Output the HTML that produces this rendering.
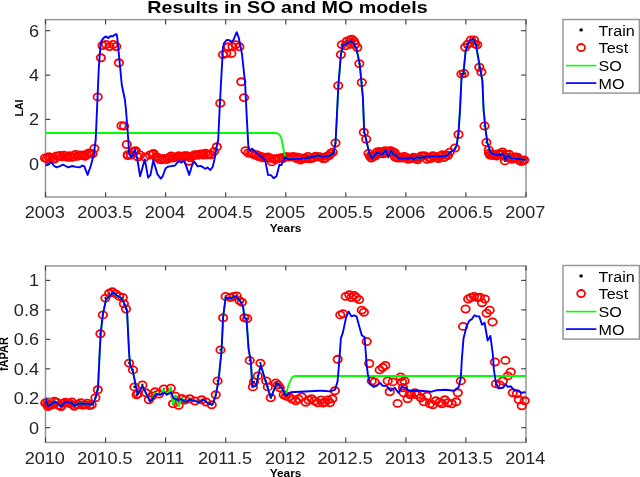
<!DOCTYPE html><html><head><meta charset="utf-8"><style>html,body{margin:0;padding:0;background:#fff;overflow:hidden}svg{display:block;filter:blur(0.35px)}</style></head><body><svg width="640" height="477" viewBox="0 0 640 477">
<rect width="640" height="477" fill="#fff"/>
<defs><clipPath id="c1"><rect x="45.5" y="19.6" width="480.5" height="177.3"/></clipPath>
<clipPath id="c2"><rect x="45.5" y="265.7" width="480.5" height="176.7"/></clipPath></defs>
<rect x="45.5" y="19.65" width="480.5" height="177.35" stroke="#939393" stroke-width="1.45" fill="none"/>
<g stroke="#3a3a3a" stroke-width="1.10" fill="none">
<line x1="45.5" y1="197.0" x2="45.5" y2="192.2"/>
<line x1="45.5" y1="19.6" x2="45.5" y2="24.4"/>
<line x1="105.6" y1="197.0" x2="105.6" y2="192.2"/>
<line x1="105.6" y1="19.6" x2="105.6" y2="24.4"/>
<line x1="165.6" y1="197.0" x2="165.6" y2="192.2"/>
<line x1="165.6" y1="19.6" x2="165.6" y2="24.4"/>
<line x1="225.7" y1="197.0" x2="225.7" y2="192.2"/>
<line x1="225.7" y1="19.6" x2="225.7" y2="24.4"/>
<line x1="285.8" y1="197.0" x2="285.8" y2="192.2"/>
<line x1="285.8" y1="19.6" x2="285.8" y2="24.4"/>
<line x1="345.8" y1="197.0" x2="345.8" y2="192.2"/>
<line x1="345.8" y1="19.6" x2="345.8" y2="24.4"/>
<line x1="405.9" y1="197.0" x2="405.9" y2="192.2"/>
<line x1="405.9" y1="19.6" x2="405.9" y2="24.4"/>
<line x1="465.9" y1="197.0" x2="465.9" y2="192.2"/>
<line x1="465.9" y1="19.6" x2="465.9" y2="24.4"/>
<line x1="526.0" y1="197.0" x2="526.0" y2="192.2"/>
<line x1="526.0" y1="19.6" x2="526.0" y2="24.4"/>
<line x1="45.5" y1="163.7" x2="50.3" y2="163.7"/>
<line x1="526.0" y1="163.7" x2="521.2" y2="163.7"/>
<line x1="45.5" y1="119.4" x2="50.3" y2="119.4"/>
<line x1="526.0" y1="119.4" x2="521.2" y2="119.4"/>
<line x1="45.5" y1="75.1" x2="50.3" y2="75.1"/>
<line x1="526.0" y1="75.1" x2="521.2" y2="75.1"/>
<line x1="45.5" y1="30.7" x2="50.3" y2="30.7"/>
<line x1="526.0" y1="30.7" x2="521.2" y2="30.7"/>
</g>
<g>
<g fill="#000">
<circle cx="335.5" cy="143.0" r="1.1"/>
<circle cx="338.2" cy="85.6" r="1.1"/>
<circle cx="340.9" cy="54.6" r="1.1"/>
<circle cx="341.8" cy="44.6" r="1.1"/>
<circle cx="345.6" cy="45.8" r="1.1"/>
<circle cx="346.8" cy="41.2" r="1.1"/>
<circle cx="349.8" cy="40.0" r="1.1"/>
<circle cx="351.9" cy="39.1" r="1.1"/>
<circle cx="354.0" cy="41.2" r="1.1"/>
<circle cx="355.2" cy="44.2" r="1.1"/>
<circle cx="357.3" cy="47.5" r="1.1"/>
<circle cx="350.6" cy="44.2" r="1.1"/>
<circle cx="359.3" cy="63.6" r="1.1"/>
<circle cx="361.8" cy="82.5" r="1.1"/>
<circle cx="363.8" cy="132.3" r="1.1"/>
<circle cx="366.2" cy="139.2" r="1.1"/>
<circle cx="368.5" cy="153.4" r="1.1"/>
<circle cx="371.3" cy="158.1" r="1.1"/>
<circle cx="377.0" cy="151.9" r="1.1"/>
<circle cx="380.0" cy="153.0" r="1.1"/>
<circle cx="385.1" cy="150.6" r="1.1"/>
<circle cx="390.2" cy="150.6" r="1.1"/>
<circle cx="395.0" cy="157.0" r="1.1"/>
<circle cx="458.5" cy="134.5" r="1.1"/>
<circle cx="455.0" cy="148.0" r="1.1"/>
<circle cx="461.4" cy="74.1" r="1.1"/>
<circle cx="464.0" cy="73.5" r="1.1"/>
<circle cx="465.2" cy="47.3" r="1.1"/>
<circle cx="467.7" cy="44.1" r="1.1"/>
<circle cx="470.9" cy="39.9" r="1.1"/>
<circle cx="474.0" cy="39.9" r="1.1"/>
<circle cx="475.1" cy="44.1" r="1.1"/>
<circle cx="477.2" cy="44.7" r="1.1"/>
<circle cx="479.3" cy="67.2" r="1.1"/>
<circle cx="481.4" cy="72.0" r="1.1"/>
<circle cx="484.5" cy="126.0" r="1.1"/>
<circle cx="486.4" cy="142.5" r="1.1"/>
<circle cx="488.7" cy="150.0" r="1.1"/>
<circle cx="490.0" cy="155.0" r="1.1"/>
<circle cx="495.0" cy="155.0" r="1.1"/>
<circle cx="502.5" cy="151.9" r="1.1"/>
<circle cx="504.9" cy="160.9" r="1.1"/>
<circle cx="509.0" cy="154.3" r="1.1"/>
<circle cx="515.0" cy="157.0" r="1.1"/>
<circle cx="517.5" cy="157.2" r="1.1"/>
<circle cx="524.2" cy="160.0" r="1.1"/>
<circle cx="285.2" cy="156.6" r="1.1"/>
<circle cx="287.1" cy="156.6" r="1.1"/>
<circle cx="289.0" cy="157.1" r="1.1"/>
<circle cx="290.9" cy="156.9" r="1.1"/>
<circle cx="292.8" cy="156.7" r="1.1"/>
<circle cx="294.7" cy="156.8" r="1.1"/>
<circle cx="296.6" cy="158.5" r="1.1"/>
<circle cx="298.5" cy="157.1" r="1.1"/>
<circle cx="300.4" cy="160.1" r="1.1"/>
<circle cx="302.3" cy="158.8" r="1.1"/>
<circle cx="304.2" cy="158.0" r="1.1"/>
<circle cx="306.1" cy="158.5" r="1.1"/>
<circle cx="308.0" cy="156.5" r="1.1"/>
<circle cx="309.9" cy="158.9" r="1.1"/>
<circle cx="311.8" cy="158.4" r="1.1"/>
<circle cx="313.7" cy="157.7" r="1.1"/>
<circle cx="315.6" cy="156.1" r="1.1"/>
<circle cx="317.5" cy="156.9" r="1.1"/>
<circle cx="319.4" cy="156.8" r="1.1"/>
<circle cx="321.3" cy="157.1" r="1.1"/>
<circle cx="323.2" cy="158.8" r="1.1"/>
<circle cx="325.1" cy="158.3" r="1.1"/>
<circle cx="327.0" cy="156.1" r="1.1"/>
<circle cx="328.9" cy="155.8" r="1.1"/>
<circle cx="330.8" cy="153.3" r="1.1"/>
<circle cx="332.7" cy="152.2" r="1.1"/>
<circle cx="370.0" cy="156.2" r="1.1"/>
<circle cx="371.9" cy="156.1" r="1.1"/>
<circle cx="373.8" cy="156.6" r="1.1"/>
<circle cx="375.7" cy="155.8" r="1.1"/>
<circle cx="377.6" cy="153.9" r="1.1"/>
<circle cx="379.5" cy="151.4" r="1.1"/>
<circle cx="381.4" cy="152.4" r="1.1"/>
<circle cx="383.3" cy="153.7" r="1.1"/>
<circle cx="385.2" cy="152.8" r="1.1"/>
<circle cx="387.1" cy="151.3" r="1.1"/>
<circle cx="389.0" cy="151.5" r="1.1"/>
<circle cx="390.9" cy="150.9" r="1.1"/>
<circle cx="392.8" cy="151.7" r="1.1"/>
<circle cx="394.7" cy="152.8" r="1.1"/>
<circle cx="396.6" cy="157.7" r="1.1"/>
<circle cx="398.5" cy="158.1" r="1.1"/>
<circle cx="400.4" cy="156.9" r="1.1"/>
<circle cx="402.3" cy="158.0" r="1.1"/>
<circle cx="404.2" cy="156.5" r="1.1"/>
<circle cx="406.1" cy="157.1" r="1.1"/>
<circle cx="408.0" cy="159.2" r="1.1"/>
<circle cx="409.9" cy="158.9" r="1.1"/>
<circle cx="411.8" cy="158.1" r="1.1"/>
<circle cx="413.7" cy="157.2" r="1.1"/>
<circle cx="415.6" cy="158.6" r="1.1"/>
<circle cx="417.5" cy="159.8" r="1.1"/>
<circle cx="419.4" cy="157.6" r="1.1"/>
<circle cx="421.3" cy="156.0" r="1.1"/>
<circle cx="423.2" cy="155.9" r="1.1"/>
<circle cx="425.1" cy="155.9" r="1.1"/>
<circle cx="427.0" cy="159.3" r="1.1"/>
<circle cx="428.9" cy="157.5" r="1.1"/>
<circle cx="430.8" cy="158.6" r="1.1"/>
<circle cx="432.7" cy="155.8" r="1.1"/>
<circle cx="434.6" cy="156.1" r="1.1"/>
<circle cx="436.5" cy="157.7" r="1.1"/>
<circle cx="438.4" cy="158.5" r="1.1"/>
<circle cx="440.3" cy="156.1" r="1.1"/>
<circle cx="442.2" cy="154.7" r="1.1"/>
<circle cx="444.1" cy="157.6" r="1.1"/>
<circle cx="446.0" cy="155.0" r="1.1"/>
<circle cx="447.9" cy="155.6" r="1.1"/>
<circle cx="449.8" cy="152.1" r="1.1"/>
<circle cx="489.0" cy="153.1" r="1.1"/>
<circle cx="490.9" cy="154.9" r="1.1"/>
<circle cx="492.8" cy="155.6" r="1.1"/>
<circle cx="494.7" cy="154.4" r="1.1"/>
<circle cx="496.6" cy="156.0" r="1.1"/>
<circle cx="498.5" cy="153.8" r="1.1"/>
<circle cx="500.4" cy="154.3" r="1.1"/>
<circle cx="502.3" cy="154.3" r="1.1"/>
<circle cx="504.2" cy="156.2" r="1.1"/>
<circle cx="506.1" cy="154.1" r="1.1"/>
<circle cx="508.0" cy="157.8" r="1.1"/>
<circle cx="509.9" cy="158.0" r="1.1"/>
<circle cx="511.8" cy="159.3" r="1.1"/>
<circle cx="513.7" cy="157.4" r="1.1"/>
<circle cx="515.6" cy="157.3" r="1.1"/>
<circle cx="517.5" cy="157.9" r="1.1"/>
<circle cx="519.4" cy="160.6" r="1.1"/>
<circle cx="521.3" cy="161.5" r="1.1"/>
<circle cx="523.2" cy="160.8" r="1.1"/>
</g>
<g fill="none" stroke="#ff0000" stroke-width="1.8">
<ellipse cx="97.7" cy="96.9" rx="4.2" ry="3.55"/>
<ellipse cx="100.9" cy="57.8" rx="4.2" ry="3.55"/>
<ellipse cx="102.5" cy="45.5" rx="4.2" ry="3.55"/>
<ellipse cx="106.0" cy="44.5" rx="4.2" ry="3.55"/>
<ellipse cx="109.5" cy="46.5" rx="4.2" ry="3.55"/>
<ellipse cx="113.0" cy="44.5" rx="4.2" ry="3.55"/>
<ellipse cx="116.2" cy="46.5" rx="4.2" ry="3.55"/>
<ellipse cx="118.9" cy="62.8" rx="4.2" ry="3.55"/>
<ellipse cx="121.5" cy="125.7" rx="4.2" ry="3.55"/>
<ellipse cx="124.0" cy="126.0" rx="4.2" ry="3.55"/>
<ellipse cx="126.8" cy="144.5" rx="4.2" ry="3.55"/>
<ellipse cx="127.7" cy="154.7" rx="4.2" ry="3.55"/>
<ellipse cx="131.0" cy="155.0" rx="4.2" ry="3.55"/>
<ellipse cx="134.3" cy="151.5" rx="4.2" ry="3.55"/>
<ellipse cx="135.7" cy="150.6" rx="4.2" ry="3.55"/>
<ellipse cx="138.0" cy="157.0" rx="4.2" ry="3.55"/>
<ellipse cx="140.0" cy="155.0" rx="4.2" ry="3.55"/>
<ellipse cx="145.0" cy="157.0" rx="4.2" ry="3.55"/>
<ellipse cx="150.0" cy="155.0" rx="4.2" ry="3.55"/>
<ellipse cx="153.6" cy="153.4" rx="4.2" ry="3.55"/>
<ellipse cx="134.0" cy="151.3" rx="4.2" ry="3.55"/>
<ellipse cx="127.8" cy="155.6" rx="4.2" ry="3.55"/>
<ellipse cx="152.8" cy="154.2" rx="4.2" ry="3.55"/>
<ellipse cx="189.0" cy="161.2" rx="4.2" ry="3.55"/>
<ellipse cx="216.8" cy="146.8" rx="4.2" ry="3.55"/>
<ellipse cx="214.0" cy="151.5" rx="4.2" ry="3.55"/>
<ellipse cx="220.3" cy="103.2" rx="4.2" ry="3.55"/>
<ellipse cx="223.0" cy="54.6" rx="4.2" ry="3.55"/>
<ellipse cx="226.2" cy="53.5" rx="4.2" ry="3.55"/>
<ellipse cx="228.3" cy="46.8" rx="4.2" ry="3.55"/>
<ellipse cx="231.4" cy="53.5" rx="4.2" ry="3.55"/>
<ellipse cx="232.5" cy="46.8" rx="4.2" ry="3.55"/>
<ellipse cx="235.6" cy="44.7" rx="4.2" ry="3.55"/>
<ellipse cx="239.4" cy="46.8" rx="4.2" ry="3.55"/>
<ellipse cx="241.3" cy="81.8" rx="4.2" ry="3.55"/>
<ellipse cx="244.0" cy="97.6" rx="4.2" ry="3.55"/>
<ellipse cx="245.5" cy="150.6" rx="4.2" ry="3.55"/>
<ellipse cx="248.3" cy="153.0" rx="4.2" ry="3.55"/>
<ellipse cx="335.5" cy="143.0" rx="4.2" ry="3.55"/>
<ellipse cx="338.2" cy="85.6" rx="4.2" ry="3.55"/>
<ellipse cx="340.9" cy="54.6" rx="4.2" ry="3.55"/>
<ellipse cx="341.8" cy="44.6" rx="4.2" ry="3.55"/>
<ellipse cx="345.6" cy="45.8" rx="4.2" ry="3.55"/>
<ellipse cx="346.8" cy="41.2" rx="4.2" ry="3.55"/>
<ellipse cx="349.8" cy="40.0" rx="4.2" ry="3.55"/>
<ellipse cx="351.9" cy="39.1" rx="4.2" ry="3.55"/>
<ellipse cx="354.0" cy="41.2" rx="4.2" ry="3.55"/>
<ellipse cx="355.2" cy="44.2" rx="4.2" ry="3.55"/>
<ellipse cx="357.3" cy="47.5" rx="4.2" ry="3.55"/>
<ellipse cx="350.6" cy="44.2" rx="4.2" ry="3.55"/>
<ellipse cx="359.3" cy="63.6" rx="4.2" ry="3.55"/>
<ellipse cx="361.8" cy="82.5" rx="4.2" ry="3.55"/>
<ellipse cx="363.8" cy="132.3" rx="4.2" ry="3.55"/>
<ellipse cx="366.2" cy="139.2" rx="4.2" ry="3.55"/>
<ellipse cx="368.5" cy="153.4" rx="4.2" ry="3.55"/>
<ellipse cx="371.3" cy="158.1" rx="4.2" ry="3.55"/>
<ellipse cx="377.0" cy="151.9" rx="4.2" ry="3.55"/>
<ellipse cx="380.0" cy="153.0" rx="4.2" ry="3.55"/>
<ellipse cx="385.1" cy="150.6" rx="4.2" ry="3.55"/>
<ellipse cx="390.2" cy="150.6" rx="4.2" ry="3.55"/>
<ellipse cx="395.0" cy="157.0" rx="4.2" ry="3.55"/>
<ellipse cx="458.5" cy="134.5" rx="4.2" ry="3.55"/>
<ellipse cx="455.0" cy="148.0" rx="4.2" ry="3.55"/>
<ellipse cx="461.4" cy="74.1" rx="4.2" ry="3.55"/>
<ellipse cx="464.0" cy="73.5" rx="4.2" ry="3.55"/>
<ellipse cx="465.2" cy="47.3" rx="4.2" ry="3.55"/>
<ellipse cx="467.7" cy="44.1" rx="4.2" ry="3.55"/>
<ellipse cx="470.9" cy="39.9" rx="4.2" ry="3.55"/>
<ellipse cx="474.0" cy="39.9" rx="4.2" ry="3.55"/>
<ellipse cx="475.1" cy="44.1" rx="4.2" ry="3.55"/>
<ellipse cx="477.2" cy="44.7" rx="4.2" ry="3.55"/>
<ellipse cx="479.3" cy="67.2" rx="4.2" ry="3.55"/>
<ellipse cx="481.4" cy="72.0" rx="4.2" ry="3.55"/>
<ellipse cx="484.5" cy="126.0" rx="4.2" ry="3.55"/>
<ellipse cx="486.4" cy="142.5" rx="4.2" ry="3.55"/>
<ellipse cx="488.7" cy="150.0" rx="4.2" ry="3.55"/>
<ellipse cx="490.0" cy="155.0" rx="4.2" ry="3.55"/>
<ellipse cx="495.0" cy="155.0" rx="4.2" ry="3.55"/>
<ellipse cx="502.5" cy="151.9" rx="4.2" ry="3.55"/>
<ellipse cx="504.9" cy="160.9" rx="4.2" ry="3.55"/>
<ellipse cx="509.0" cy="154.3" rx="4.2" ry="3.55"/>
<ellipse cx="515.0" cy="157.0" rx="4.2" ry="3.55"/>
<ellipse cx="517.5" cy="157.2" rx="4.2" ry="3.55"/>
<ellipse cx="524.2" cy="160.0" rx="4.2" ry="3.55"/>
<ellipse cx="45.0" cy="158.0" rx="4.2" ry="3.55"/>
<ellipse cx="46.9" cy="158.6" rx="4.2" ry="3.55"/>
<ellipse cx="48.8" cy="156.8" rx="4.2" ry="3.55"/>
<ellipse cx="50.7" cy="157.7" rx="4.2" ry="3.55"/>
<ellipse cx="52.6" cy="159.1" rx="4.2" ry="3.55"/>
<ellipse cx="54.5" cy="159.1" rx="4.2" ry="3.55"/>
<ellipse cx="56.4" cy="155.9" rx="4.2" ry="3.55"/>
<ellipse cx="58.3" cy="156.2" rx="4.2" ry="3.55"/>
<ellipse cx="60.2" cy="155.5" rx="4.2" ry="3.55"/>
<ellipse cx="62.1" cy="156.9" rx="4.2" ry="3.55"/>
<ellipse cx="64.0" cy="155.2" rx="4.2" ry="3.55"/>
<ellipse cx="65.9" cy="156.7" rx="4.2" ry="3.55"/>
<ellipse cx="67.8" cy="157.4" rx="4.2" ry="3.55"/>
<ellipse cx="69.7" cy="155.8" rx="4.2" ry="3.55"/>
<ellipse cx="71.6" cy="157.2" rx="4.2" ry="3.55"/>
<ellipse cx="73.5" cy="156.8" rx="4.2" ry="3.55"/>
<ellipse cx="75.4" cy="154.4" rx="4.2" ry="3.55"/>
<ellipse cx="77.3" cy="156.4" rx="4.2" ry="3.55"/>
<ellipse cx="79.2" cy="155.0" rx="4.2" ry="3.55"/>
<ellipse cx="81.1" cy="155.5" rx="4.2" ry="3.55"/>
<ellipse cx="83.0" cy="154.9" rx="4.2" ry="3.55"/>
<ellipse cx="84.9" cy="156.4" rx="4.2" ry="3.55"/>
<ellipse cx="86.8" cy="154.8" rx="4.2" ry="3.55"/>
<ellipse cx="88.7" cy="152.9" rx="4.2" ry="3.55"/>
<ellipse cx="90.6" cy="153.7" rx="4.2" ry="3.55"/>
<ellipse cx="92.5" cy="153.8" rx="4.2" ry="3.55"/>
<ellipse cx="94.4" cy="148.4" rx="4.2" ry="3.55"/>
<ellipse cx="156.0" cy="156.7" rx="4.2" ry="3.55"/>
<ellipse cx="157.9" cy="157.4" rx="4.2" ry="3.55"/>
<ellipse cx="159.8" cy="159.5" rx="4.2" ry="3.55"/>
<ellipse cx="161.7" cy="159.7" rx="4.2" ry="3.55"/>
<ellipse cx="163.6" cy="158.5" rx="4.2" ry="3.55"/>
<ellipse cx="165.5" cy="159.4" rx="4.2" ry="3.55"/>
<ellipse cx="167.4" cy="159.2" rx="4.2" ry="3.55"/>
<ellipse cx="169.3" cy="157.3" rx="4.2" ry="3.55"/>
<ellipse cx="171.2" cy="156.0" rx="4.2" ry="3.55"/>
<ellipse cx="173.1" cy="158.1" rx="4.2" ry="3.55"/>
<ellipse cx="175.0" cy="157.5" rx="4.2" ry="3.55"/>
<ellipse cx="176.9" cy="156.6" rx="4.2" ry="3.55"/>
<ellipse cx="178.8" cy="155.8" rx="4.2" ry="3.55"/>
<ellipse cx="180.7" cy="156.4" rx="4.2" ry="3.55"/>
<ellipse cx="182.6" cy="156.5" rx="4.2" ry="3.55"/>
<ellipse cx="184.5" cy="155.7" rx="4.2" ry="3.55"/>
<ellipse cx="186.4" cy="155.6" rx="4.2" ry="3.55"/>
<ellipse cx="188.3" cy="156.2" rx="4.2" ry="3.55"/>
<ellipse cx="190.2" cy="157.7" rx="4.2" ry="3.55"/>
<ellipse cx="192.1" cy="156.4" rx="4.2" ry="3.55"/>
<ellipse cx="194.0" cy="155.0" rx="4.2" ry="3.55"/>
<ellipse cx="195.9" cy="154.8" rx="4.2" ry="3.55"/>
<ellipse cx="197.8" cy="155.3" rx="4.2" ry="3.55"/>
<ellipse cx="199.7" cy="154.2" rx="4.2" ry="3.55"/>
<ellipse cx="201.6" cy="154.0" rx="4.2" ry="3.55"/>
<ellipse cx="203.5" cy="155.1" rx="4.2" ry="3.55"/>
<ellipse cx="205.4" cy="153.3" rx="4.2" ry="3.55"/>
<ellipse cx="207.3" cy="154.7" rx="4.2" ry="3.55"/>
<ellipse cx="209.2" cy="154.1" rx="4.2" ry="3.55"/>
<ellipse cx="211.1" cy="154.7" rx="4.2" ry="3.55"/>
<ellipse cx="251.0" cy="153.3" rx="4.2" ry="3.55"/>
<ellipse cx="252.9" cy="154.0" rx="4.2" ry="3.55"/>
<ellipse cx="254.8" cy="155.0" rx="4.2" ry="3.55"/>
<ellipse cx="256.7" cy="154.6" rx="4.2" ry="3.55"/>
<ellipse cx="258.6" cy="156.6" rx="4.2" ry="3.55"/>
<ellipse cx="260.5" cy="156.1" rx="4.2" ry="3.55"/>
<ellipse cx="262.4" cy="157.7" rx="4.2" ry="3.55"/>
<ellipse cx="264.3" cy="157.1" rx="4.2" ry="3.55"/>
<ellipse cx="266.2" cy="157.9" rx="4.2" ry="3.55"/>
<ellipse cx="268.1" cy="156.9" rx="4.2" ry="3.55"/>
<ellipse cx="270.0" cy="158.3" rx="4.2" ry="3.55"/>
<ellipse cx="271.9" cy="161.9" rx="4.2" ry="3.55"/>
<ellipse cx="273.8" cy="158.7" rx="4.2" ry="3.55"/>
<ellipse cx="275.7" cy="159.5" rx="4.2" ry="3.55"/>
<ellipse cx="277.6" cy="158.4" rx="4.2" ry="3.55"/>
<ellipse cx="279.5" cy="158.3" rx="4.2" ry="3.55"/>
<ellipse cx="281.4" cy="157.6" rx="4.2" ry="3.55"/>
<ellipse cx="283.3" cy="158.4" rx="4.2" ry="3.55"/>
<ellipse cx="285.2" cy="156.6" rx="4.2" ry="3.55"/>
<ellipse cx="287.1" cy="156.6" rx="4.2" ry="3.55"/>
<ellipse cx="289.0" cy="157.1" rx="4.2" ry="3.55"/>
<ellipse cx="290.9" cy="156.9" rx="4.2" ry="3.55"/>
<ellipse cx="292.8" cy="156.7" rx="4.2" ry="3.55"/>
<ellipse cx="294.7" cy="156.8" rx="4.2" ry="3.55"/>
<ellipse cx="296.6" cy="158.5" rx="4.2" ry="3.55"/>
<ellipse cx="298.5" cy="157.1" rx="4.2" ry="3.55"/>
<ellipse cx="300.4" cy="160.1" rx="4.2" ry="3.55"/>
<ellipse cx="302.3" cy="158.8" rx="4.2" ry="3.55"/>
<ellipse cx="304.2" cy="158.0" rx="4.2" ry="3.55"/>
<ellipse cx="306.1" cy="158.5" rx="4.2" ry="3.55"/>
<ellipse cx="308.0" cy="156.5" rx="4.2" ry="3.55"/>
<ellipse cx="309.9" cy="158.9" rx="4.2" ry="3.55"/>
<ellipse cx="311.8" cy="158.4" rx="4.2" ry="3.55"/>
<ellipse cx="313.7" cy="157.7" rx="4.2" ry="3.55"/>
<ellipse cx="315.6" cy="156.1" rx="4.2" ry="3.55"/>
<ellipse cx="317.5" cy="156.9" rx="4.2" ry="3.55"/>
<ellipse cx="319.4" cy="156.8" rx="4.2" ry="3.55"/>
<ellipse cx="321.3" cy="157.1" rx="4.2" ry="3.55"/>
<ellipse cx="323.2" cy="158.8" rx="4.2" ry="3.55"/>
<ellipse cx="325.1" cy="158.3" rx="4.2" ry="3.55"/>
<ellipse cx="327.0" cy="156.1" rx="4.2" ry="3.55"/>
<ellipse cx="328.9" cy="155.8" rx="4.2" ry="3.55"/>
<ellipse cx="330.8" cy="153.3" rx="4.2" ry="3.55"/>
<ellipse cx="332.7" cy="152.2" rx="4.2" ry="3.55"/>
<ellipse cx="370.0" cy="156.2" rx="4.2" ry="3.55"/>
<ellipse cx="371.9" cy="156.1" rx="4.2" ry="3.55"/>
<ellipse cx="373.8" cy="156.6" rx="4.2" ry="3.55"/>
<ellipse cx="375.7" cy="155.8" rx="4.2" ry="3.55"/>
<ellipse cx="377.6" cy="153.9" rx="4.2" ry="3.55"/>
<ellipse cx="379.5" cy="151.4" rx="4.2" ry="3.55"/>
<ellipse cx="381.4" cy="152.4" rx="4.2" ry="3.55"/>
<ellipse cx="383.3" cy="153.7" rx="4.2" ry="3.55"/>
<ellipse cx="385.2" cy="152.8" rx="4.2" ry="3.55"/>
<ellipse cx="387.1" cy="151.3" rx="4.2" ry="3.55"/>
<ellipse cx="389.0" cy="151.5" rx="4.2" ry="3.55"/>
<ellipse cx="390.9" cy="150.9" rx="4.2" ry="3.55"/>
<ellipse cx="392.8" cy="151.7" rx="4.2" ry="3.55"/>
<ellipse cx="394.7" cy="152.8" rx="4.2" ry="3.55"/>
<ellipse cx="396.6" cy="157.7" rx="4.2" ry="3.55"/>
<ellipse cx="398.5" cy="158.1" rx="4.2" ry="3.55"/>
<ellipse cx="400.4" cy="156.9" rx="4.2" ry="3.55"/>
<ellipse cx="402.3" cy="158.0" rx="4.2" ry="3.55"/>
<ellipse cx="404.2" cy="156.5" rx="4.2" ry="3.55"/>
<ellipse cx="406.1" cy="157.1" rx="4.2" ry="3.55"/>
<ellipse cx="408.0" cy="159.2" rx="4.2" ry="3.55"/>
<ellipse cx="409.9" cy="158.9" rx="4.2" ry="3.55"/>
<ellipse cx="411.8" cy="158.1" rx="4.2" ry="3.55"/>
<ellipse cx="413.7" cy="157.2" rx="4.2" ry="3.55"/>
<ellipse cx="415.6" cy="158.6" rx="4.2" ry="3.55"/>
<ellipse cx="417.5" cy="159.8" rx="4.2" ry="3.55"/>
<ellipse cx="419.4" cy="157.6" rx="4.2" ry="3.55"/>
<ellipse cx="421.3" cy="156.0" rx="4.2" ry="3.55"/>
<ellipse cx="423.2" cy="155.9" rx="4.2" ry="3.55"/>
<ellipse cx="425.1" cy="155.9" rx="4.2" ry="3.55"/>
<ellipse cx="427.0" cy="159.3" rx="4.2" ry="3.55"/>
<ellipse cx="428.9" cy="157.5" rx="4.2" ry="3.55"/>
<ellipse cx="430.8" cy="158.6" rx="4.2" ry="3.55"/>
<ellipse cx="432.7" cy="155.8" rx="4.2" ry="3.55"/>
<ellipse cx="434.6" cy="156.1" rx="4.2" ry="3.55"/>
<ellipse cx="436.5" cy="157.7" rx="4.2" ry="3.55"/>
<ellipse cx="438.4" cy="158.5" rx="4.2" ry="3.55"/>
<ellipse cx="440.3" cy="156.1" rx="4.2" ry="3.55"/>
<ellipse cx="442.2" cy="154.7" rx="4.2" ry="3.55"/>
<ellipse cx="444.1" cy="157.6" rx="4.2" ry="3.55"/>
<ellipse cx="446.0" cy="155.0" rx="4.2" ry="3.55"/>
<ellipse cx="447.9" cy="155.6" rx="4.2" ry="3.55"/>
<ellipse cx="449.8" cy="152.1" rx="4.2" ry="3.55"/>
<ellipse cx="489.0" cy="153.1" rx="4.2" ry="3.55"/>
<ellipse cx="490.9" cy="154.9" rx="4.2" ry="3.55"/>
<ellipse cx="492.8" cy="155.6" rx="4.2" ry="3.55"/>
<ellipse cx="494.7" cy="154.4" rx="4.2" ry="3.55"/>
<ellipse cx="496.6" cy="156.0" rx="4.2" ry="3.55"/>
<ellipse cx="498.5" cy="153.8" rx="4.2" ry="3.55"/>
<ellipse cx="500.4" cy="154.3" rx="4.2" ry="3.55"/>
<ellipse cx="502.3" cy="154.3" rx="4.2" ry="3.55"/>
<ellipse cx="504.2" cy="156.2" rx="4.2" ry="3.55"/>
<ellipse cx="506.1" cy="154.1" rx="4.2" ry="3.55"/>
<ellipse cx="508.0" cy="157.8" rx="4.2" ry="3.55"/>
<ellipse cx="509.9" cy="158.0" rx="4.2" ry="3.55"/>
<ellipse cx="511.8" cy="159.3" rx="4.2" ry="3.55"/>
<ellipse cx="513.7" cy="157.4" rx="4.2" ry="3.55"/>
<ellipse cx="515.6" cy="157.3" rx="4.2" ry="3.55"/>
<ellipse cx="517.5" cy="157.9" rx="4.2" ry="3.55"/>
<ellipse cx="519.4" cy="160.6" rx="4.2" ry="3.55"/>
<ellipse cx="521.3" cy="161.5" rx="4.2" ry="3.55"/>
<ellipse cx="523.2" cy="160.8" rx="4.2" ry="3.55"/>
</g>
<g clip-path="url(#c1)">
<polyline points="45.0,133.0 276.6,133.0 279.5,134.5 281.3,138.3 283.2,147.7 285.1,156.2 287.0,158.5 301.1,158.7 314.3,156.8 317.5,155.3 323.2,156.8 328.9,156.2 333.6,153.4 335.5,143.0 336.7,120.0 338.4,85.0 340.9,54.6 343.0,45.2 345.1,44.7 350.3,41.0 353.5,43.1 356.6,49.4 359.7,64.0 362.9,97.6 364.2,131.5 369.4,153.6 372.1,158.3 377.3,152.5 382.0,154.6 385.7,150.4 388.3,157.3 391.0,150.4 393.6,154.6 396.2,155.2 398.8,158.8 408.3,158.8 411.4,157.3 413.5,159.7 416.7,157.3 420.0,158.0 428.3,156.2 446.2,156.2 450.0,152.5 454.7,149.6 456.6,145.8 458.5,132.6 460.0,110.0 461.5,78.0 463.5,72.5 465.5,52.0 467.5,45.0 470.0,40.5 473.0,38.8 476.0,45.0 479.3,64.0 482.4,80.8 483.6,110.0 485.5,128.9 487.4,143.0 490.2,151.5 493.0,154.3 499.6,155.3 503.4,153.8 505.3,160.0 508.1,155.3 510.9,158.1 516.6,158.7 522.3,159.4 525.6,160.0" fill="none" stroke="#00ff00" stroke-width="1.8" stroke-linejoin="round"/>
<polyline points="45.2,165.5 48.5,164.7 50.8,161.9 54.2,166.0 56.5,167.4 59.3,166.4 63.1,164.7 65.5,166.0 68.3,167.4 72.1,166.0 75.8,166.9 79.6,167.4 82.5,165.5 84.3,166.4 87.6,174.9 90.9,165.5 93.8,154.2 95.7,140.0 98.8,68.0 100.5,44.8 101.7,40.6 103.4,38.1 105.9,36.4 108.4,38.1 110.5,36.0 112.6,36.4 114.7,34.7 116.6,34.3 117.2,37.2 120.2,68.0 121.8,85.0 124.9,99.7 126.0,110.0 128.3,140.0 129.2,154.2 131.1,157.0 132.5,156.0 134.9,149.4 137.3,158.9 140.1,176.3 144.8,159.3 148.1,177.7 150.5,174.9 153.3,160.3 157.5,174.4 160.8,178.7 162.7,176.3 165.6,168.3 168.4,166.6 175.0,165.5 178.8,160.8 181.1,162.6 184.0,160.8 186.3,166.4 189.2,174.9 192.0,165.5 194.3,161.5 197.6,166.4 200.5,165.9 203.3,167.4 205.2,168.8 207.5,167.5 210.4,170.0 212.7,166.9 214.6,158.9 216.5,147.5 218.2,140.0 219.6,110.0 221.0,82.9 223.0,47.3 224.1,43.0 226.8,39.9 229.4,40.3 231.4,42.0 233.5,39.9 236.7,32.2 238.8,37.8 241.9,53.5 245.1,82.9 246.4,110.0 248.3,145.8 249.8,151.1 252.1,148.7 257.7,154.3 263.4,158.1 265.3,161.0 268.1,175.1 270.9,175.1 273.8,178.3 276.6,176.0 279.4,164.7 281.3,165.1 285.1,157.2 287.9,159.1 301.1,158.7 314.3,156.8 317.5,155.3 323.2,156.8 328.9,156.2 333.6,153.4 335.5,143.0 336.7,120.0 338.4,85.0 340.9,54.6 343.0,45.2 345.1,44.7 350.3,41.0 353.5,43.1 356.6,49.4 359.7,64.0 362.9,97.6 364.2,131.5 369.4,153.6 372.1,158.3 377.3,152.5 382.0,154.6 385.7,150.4 388.3,157.3 391.0,150.4 393.6,154.6 396.2,155.2 398.8,158.8 408.3,158.8 411.4,157.3 413.5,159.7 416.7,157.3 420.0,158.0 428.3,156.2 446.2,156.2 450.0,152.5 454.7,149.6 456.6,145.8 458.5,132.6 460.0,110.0 461.5,78.0 463.5,72.5 465.5,52.0 467.5,45.0 470.0,40.5 473.0,38.8 476.0,45.0 479.3,64.0 482.4,80.8 483.6,110.0 485.5,128.9 487.4,143.0 490.2,151.5 493.0,154.3 499.6,155.3 503.4,153.8 505.3,160.0 508.1,155.3 510.9,158.1 516.6,158.7 522.3,159.4 525.6,160.0" fill="none" stroke="#0000ff" stroke-width="1.9" stroke-linejoin="round"/>
</g></g>
<g font-family="Liberation Sans, sans-serif" font-size="15.6" fill="#262626">
<text transform="translate(44.8,217.6) scale(1.160,1)" text-anchor="middle">2003</text>
<text transform="translate(104.9,217.6) scale(1.160,1)" text-anchor="middle">2003.5</text>
<text transform="translate(164.9,217.6) scale(1.160,1)" text-anchor="middle">2004</text>
<text transform="translate(225.0,217.6) scale(1.160,1)" text-anchor="middle">2004.5</text>
<text transform="translate(285.1,217.6) scale(1.160,1)" text-anchor="middle">2005</text>
<text transform="translate(345.1,217.6) scale(1.160,1)" text-anchor="middle">2005.5</text>
<text transform="translate(405.2,217.6) scale(1.160,1)" text-anchor="middle">2006</text>
<text transform="translate(465.2,217.6) scale(1.160,1)" text-anchor="middle">2006.5</text>
<text transform="translate(525.3,217.6) scale(1.160,1)" text-anchor="middle">2007</text>
<text transform="translate(39.0,169.7) scale(1.160,1)" text-anchor="end">0</text>
<text transform="translate(39.0,125.4) scale(1.160,1)" text-anchor="end">2</text>
<text transform="translate(39.0,81.1) scale(1.160,1)" text-anchor="end">4</text>
<text transform="translate(39.0,36.7) scale(1.160,1)" text-anchor="end">6</text>
</g>
<g font-family="Liberation Sans, sans-serif" font-weight="bold" font-size="10.0" fill="#000">
<text transform="translate(285.5,232.0) scale(1.190,1)" text-anchor="middle">Years</text>
<text transform="translate(23.1,108.0) rotate(-90) scale(1,1.100)" text-anchor="middle" font-size="10.6">LAI</text>
</g>
<rect x="45.5" y="265.95" width="480.5" height="176.45" stroke="#939393" stroke-width="1.45" fill="none"/>
<g stroke="#3a3a3a" stroke-width="1.10" fill="none">
<line x1="45.5" y1="442.4" x2="45.5" y2="437.6"/>
<line x1="45.5" y1="265.7" x2="45.5" y2="270.5"/>
<line x1="105.6" y1="442.4" x2="105.6" y2="437.6"/>
<line x1="105.6" y1="265.7" x2="105.6" y2="270.5"/>
<line x1="165.6" y1="442.4" x2="165.6" y2="437.6"/>
<line x1="165.6" y1="265.7" x2="165.6" y2="270.5"/>
<line x1="225.7" y1="442.4" x2="225.7" y2="437.6"/>
<line x1="225.7" y1="265.7" x2="225.7" y2="270.5"/>
<line x1="285.8" y1="442.4" x2="285.8" y2="437.6"/>
<line x1="285.8" y1="265.7" x2="285.8" y2="270.5"/>
<line x1="345.8" y1="442.4" x2="345.8" y2="437.6"/>
<line x1="345.8" y1="265.7" x2="345.8" y2="270.5"/>
<line x1="405.9" y1="442.4" x2="405.9" y2="437.6"/>
<line x1="405.9" y1="265.7" x2="405.9" y2="270.5"/>
<line x1="465.9" y1="442.4" x2="465.9" y2="437.6"/>
<line x1="465.9" y1="265.7" x2="465.9" y2="270.5"/>
<line x1="526.0" y1="442.4" x2="526.0" y2="437.6"/>
<line x1="526.0" y1="265.7" x2="526.0" y2="270.5"/>
<line x1="45.5" y1="427.7" x2="50.3" y2="427.7"/>
<line x1="526.0" y1="427.7" x2="521.2" y2="427.7"/>
<line x1="45.5" y1="398.2" x2="50.3" y2="398.2"/>
<line x1="526.0" y1="398.2" x2="521.2" y2="398.2"/>
<line x1="45.5" y1="368.8" x2="50.3" y2="368.8"/>
<line x1="526.0" y1="368.8" x2="521.2" y2="368.8"/>
<line x1="45.5" y1="339.3" x2="50.3" y2="339.3"/>
<line x1="526.0" y1="339.3" x2="521.2" y2="339.3"/>
<line x1="45.5" y1="309.9" x2="50.3" y2="309.9"/>
<line x1="526.0" y1="309.9" x2="521.2" y2="309.9"/>
<line x1="45.5" y1="280.4" x2="50.3" y2="280.4"/>
<line x1="526.0" y1="280.4" x2="521.2" y2="280.4"/>
</g>
<g>
<g fill="#000">
<circle cx="48.0" cy="406.5" r="1.1"/>
<circle cx="61.0" cy="406.5" r="1.1"/>
<circle cx="74.5" cy="406.0" r="1.1"/>
<circle cx="45.5" cy="403.0" r="1.1"/>
<circle cx="95.4" cy="397.8" r="1.1"/>
<circle cx="97.8" cy="389.8" r="1.1"/>
<circle cx="100.4" cy="333.8" r="1.1"/>
<circle cx="102.9" cy="314.9" r="1.1"/>
<circle cx="105.4" cy="298.1" r="1.1"/>
<circle cx="109.2" cy="293.3" r="1.1"/>
<circle cx="112.3" cy="291.8" r="1.1"/>
<circle cx="115.9" cy="293.9" r="1.1"/>
<circle cx="119.2" cy="296.4" r="1.1"/>
<circle cx="122.8" cy="297.5" r="1.1"/>
<circle cx="123.9" cy="303.8" r="1.1"/>
<circle cx="126.0" cy="309.0" r="1.1"/>
<circle cx="129.1" cy="363.1" r="1.1"/>
<circle cx="133.0" cy="369.9" r="1.1"/>
<circle cx="134.4" cy="386.9" r="1.1"/>
<circle cx="136.6" cy="394.8" r="1.1"/>
<circle cx="138.0" cy="393.8" r="1.1"/>
<circle cx="142.4" cy="384.9" r="1.1"/>
<circle cx="145.9" cy="392.8" r="1.1"/>
<circle cx="148.9" cy="399.8" r="1.1"/>
<circle cx="152.0" cy="396.0" r="1.1"/>
<circle cx="155.2" cy="391.8" r="1.1"/>
<circle cx="159.0" cy="394.0" r="1.1"/>
<circle cx="175.5" cy="396.1" r="1.1"/>
<circle cx="185.0" cy="400.0" r="1.1"/>
<circle cx="189.8" cy="398.8" r="1.1"/>
<circle cx="195.0" cy="401.0" r="1.1"/>
<circle cx="201.7" cy="399.8" r="1.1"/>
<circle cx="206.0" cy="402.0" r="1.1"/>
<circle cx="211.7" cy="404.8" r="1.1"/>
<circle cx="215.7" cy="394.8" r="1.1"/>
<circle cx="217.6" cy="380.9" r="1.1"/>
<circle cx="220.5" cy="349.9" r="1.1"/>
<circle cx="223.1" cy="317.8" r="1.1"/>
<circle cx="225.6" cy="296.4" r="1.1"/>
<circle cx="230.4" cy="297.5" r="1.1"/>
<circle cx="233.5" cy="296.4" r="1.1"/>
<circle cx="236.7" cy="296.0" r="1.1"/>
<circle cx="239.4" cy="300.6" r="1.1"/>
<circle cx="241.9" cy="302.3" r="1.1"/>
<circle cx="244.4" cy="317.8" r="1.1"/>
<circle cx="247.2" cy="318.5" r="1.1"/>
<circle cx="249.7" cy="360.4" r="1.1"/>
<circle cx="252.9" cy="386.9" r="1.1"/>
<circle cx="254.0" cy="381.9" r="1.1"/>
<circle cx="257.8" cy="375.9" r="1.1"/>
<circle cx="260.4" cy="363.1" r="1.1"/>
<circle cx="266.2" cy="380.9" r="1.1"/>
<circle cx="267.8" cy="386.9" r="1.1"/>
<circle cx="270.8" cy="397.8" r="1.1"/>
<circle cx="275.8" cy="382.9" r="1.1"/>
<circle cx="277.8" cy="384.9" r="1.1"/>
<circle cx="279.8" cy="387.8" r="1.1"/>
<circle cx="283.7" cy="394.8" r="1.1"/>
<circle cx="286.0" cy="396.0" r="1.1"/>
<circle cx="45.5" cy="402.9" r="1.1"/>
<circle cx="47.7" cy="404.0" r="1.1"/>
<circle cx="49.9" cy="405.5" r="1.1"/>
<circle cx="52.1" cy="404.9" r="1.1"/>
<circle cx="54.3" cy="401.3" r="1.1"/>
<circle cx="56.5" cy="402.1" r="1.1"/>
<circle cx="58.7" cy="405.2" r="1.1"/>
<circle cx="60.9" cy="406.2" r="1.1"/>
<circle cx="63.1" cy="403.3" r="1.1"/>
<circle cx="65.3" cy="402.2" r="1.1"/>
<circle cx="67.5" cy="402.9" r="1.1"/>
<circle cx="69.7" cy="403.5" r="1.1"/>
<circle cx="71.9" cy="402.0" r="1.1"/>
<circle cx="74.1" cy="406.0" r="1.1"/>
<circle cx="76.3" cy="404.4" r="1.1"/>
<circle cx="78.5" cy="404.5" r="1.1"/>
<circle cx="80.7" cy="402.6" r="1.1"/>
<circle cx="82.9" cy="405.3" r="1.1"/>
<circle cx="85.1" cy="404.6" r="1.1"/>
<circle cx="87.3" cy="403.2" r="1.1"/>
<circle cx="89.5" cy="405.5" r="1.1"/>
<circle cx="91.7" cy="404.7" r="1.1"/>
<circle cx="163.8" cy="389.0" r="1.1"/>
<circle cx="170.8" cy="388.2" r="1.1"/>
<circle cx="173.0" cy="403.8" r="1.1"/>
<circle cx="178.6" cy="405.4" r="1.1"/>
<circle cx="181.7" cy="398.4" r="1.1"/>
</g>
<g fill="none" stroke="#ff0000" stroke-width="1.8">
<ellipse cx="48.0" cy="406.5" rx="4.2" ry="3.55"/>
<ellipse cx="61.0" cy="406.5" rx="4.2" ry="3.55"/>
<ellipse cx="74.5" cy="406.0" rx="4.2" ry="3.55"/>
<ellipse cx="45.5" cy="403.0" rx="4.2" ry="3.55"/>
<ellipse cx="95.4" cy="397.8" rx="4.2" ry="3.55"/>
<ellipse cx="97.8" cy="389.8" rx="4.2" ry="3.55"/>
<ellipse cx="100.4" cy="333.8" rx="4.2" ry="3.55"/>
<ellipse cx="102.9" cy="314.9" rx="4.2" ry="3.55"/>
<ellipse cx="105.4" cy="298.1" rx="4.2" ry="3.55"/>
<ellipse cx="109.2" cy="293.3" rx="4.2" ry="3.55"/>
<ellipse cx="112.3" cy="291.8" rx="4.2" ry="3.55"/>
<ellipse cx="115.9" cy="293.9" rx="4.2" ry="3.55"/>
<ellipse cx="119.2" cy="296.4" rx="4.2" ry="3.55"/>
<ellipse cx="122.8" cy="297.5" rx="4.2" ry="3.55"/>
<ellipse cx="123.9" cy="303.8" rx="4.2" ry="3.55"/>
<ellipse cx="126.0" cy="309.0" rx="4.2" ry="3.55"/>
<ellipse cx="129.1" cy="363.1" rx="4.2" ry="3.55"/>
<ellipse cx="133.0" cy="369.9" rx="4.2" ry="3.55"/>
<ellipse cx="134.4" cy="386.9" rx="4.2" ry="3.55"/>
<ellipse cx="136.6" cy="394.8" rx="4.2" ry="3.55"/>
<ellipse cx="138.0" cy="393.8" rx="4.2" ry="3.55"/>
<ellipse cx="142.4" cy="384.9" rx="4.2" ry="3.55"/>
<ellipse cx="145.9" cy="392.8" rx="4.2" ry="3.55"/>
<ellipse cx="148.9" cy="399.8" rx="4.2" ry="3.55"/>
<ellipse cx="152.0" cy="396.0" rx="4.2" ry="3.55"/>
<ellipse cx="155.2" cy="391.8" rx="4.2" ry="3.55"/>
<ellipse cx="159.0" cy="394.0" rx="4.2" ry="3.55"/>
<ellipse cx="175.5" cy="396.1" rx="4.2" ry="3.55"/>
<ellipse cx="185.0" cy="400.0" rx="4.2" ry="3.55"/>
<ellipse cx="189.8" cy="398.8" rx="4.2" ry="3.55"/>
<ellipse cx="195.0" cy="401.0" rx="4.2" ry="3.55"/>
<ellipse cx="201.7" cy="399.8" rx="4.2" ry="3.55"/>
<ellipse cx="206.0" cy="402.0" rx="4.2" ry="3.55"/>
<ellipse cx="211.7" cy="404.8" rx="4.2" ry="3.55"/>
<ellipse cx="215.7" cy="394.8" rx="4.2" ry="3.55"/>
<ellipse cx="217.6" cy="380.9" rx="4.2" ry="3.55"/>
<ellipse cx="220.5" cy="349.9" rx="4.2" ry="3.55"/>
<ellipse cx="223.1" cy="317.8" rx="4.2" ry="3.55"/>
<ellipse cx="225.6" cy="296.4" rx="4.2" ry="3.55"/>
<ellipse cx="230.4" cy="297.5" rx="4.2" ry="3.55"/>
<ellipse cx="233.5" cy="296.4" rx="4.2" ry="3.55"/>
<ellipse cx="236.7" cy="296.0" rx="4.2" ry="3.55"/>
<ellipse cx="239.4" cy="300.6" rx="4.2" ry="3.55"/>
<ellipse cx="241.9" cy="302.3" rx="4.2" ry="3.55"/>
<ellipse cx="244.4" cy="317.8" rx="4.2" ry="3.55"/>
<ellipse cx="247.2" cy="318.5" rx="4.2" ry="3.55"/>
<ellipse cx="249.7" cy="360.4" rx="4.2" ry="3.55"/>
<ellipse cx="252.9" cy="386.9" rx="4.2" ry="3.55"/>
<ellipse cx="254.0" cy="381.9" rx="4.2" ry="3.55"/>
<ellipse cx="257.8" cy="375.9" rx="4.2" ry="3.55"/>
<ellipse cx="260.4" cy="363.1" rx="4.2" ry="3.55"/>
<ellipse cx="266.2" cy="380.9" rx="4.2" ry="3.55"/>
<ellipse cx="267.8" cy="386.9" rx="4.2" ry="3.55"/>
<ellipse cx="270.8" cy="397.8" rx="4.2" ry="3.55"/>
<ellipse cx="275.8" cy="382.9" rx="4.2" ry="3.55"/>
<ellipse cx="277.8" cy="384.9" rx="4.2" ry="3.55"/>
<ellipse cx="279.8" cy="387.8" rx="4.2" ry="3.55"/>
<ellipse cx="283.7" cy="394.8" rx="4.2" ry="3.55"/>
<ellipse cx="286.0" cy="396.0" rx="4.2" ry="3.55"/>
<ellipse cx="288.7" cy="396.8" rx="4.2" ry="3.55"/>
<ellipse cx="292.0" cy="399.0" rx="4.2" ry="3.55"/>
<ellipse cx="295.7" cy="400.8" rx="4.2" ry="3.55"/>
<ellipse cx="298.5" cy="399.0" rx="4.2" ry="3.55"/>
<ellipse cx="301.7" cy="396.8" rx="4.2" ry="3.55"/>
<ellipse cx="305.7" cy="402.2" rx="4.2" ry="3.55"/>
<ellipse cx="308.5" cy="400.0" rx="4.2" ry="3.55"/>
<ellipse cx="311.6" cy="398.8" rx="4.2" ry="3.55"/>
<ellipse cx="314.5" cy="401.0" rx="4.2" ry="3.55"/>
<ellipse cx="317.6" cy="402.8" rx="4.2" ry="3.55"/>
<ellipse cx="321.0" cy="400.0" rx="4.2" ry="3.55"/>
<ellipse cx="323.0" cy="403.0" rx="4.2" ry="3.55"/>
<ellipse cx="325.0" cy="402.0" rx="4.2" ry="3.55"/>
<ellipse cx="327.5" cy="400.0" rx="4.2" ry="3.55"/>
<ellipse cx="329.9" cy="402.8" rx="4.2" ry="3.55"/>
<ellipse cx="332.3" cy="398.8" rx="4.2" ry="3.55"/>
<ellipse cx="334.9" cy="390.8" rx="4.2" ry="3.55"/>
<ellipse cx="337.7" cy="359.3" rx="4.2" ry="3.55"/>
<ellipse cx="340.3" cy="314.9" rx="4.2" ry="3.55"/>
<ellipse cx="343.0" cy="313.6" rx="4.2" ry="3.55"/>
<ellipse cx="345.7" cy="296.4" rx="4.2" ry="3.55"/>
<ellipse cx="349.3" cy="294.8" rx="4.2" ry="3.55"/>
<ellipse cx="351.4" cy="297.5" rx="4.2" ry="3.55"/>
<ellipse cx="354.1" cy="295.4" rx="4.2" ry="3.55"/>
<ellipse cx="356.2" cy="297.5" rx="4.2" ry="3.55"/>
<ellipse cx="359.1" cy="299.6" rx="4.2" ry="3.55"/>
<ellipse cx="361.8" cy="310.1" rx="4.2" ry="3.55"/>
<ellipse cx="363.9" cy="312.2" rx="4.2" ry="3.55"/>
<ellipse cx="366.7" cy="341.5" rx="4.2" ry="3.55"/>
<ellipse cx="369.2" cy="363.5" rx="4.2" ry="3.55"/>
<ellipse cx="371.8" cy="380.9" rx="4.2" ry="3.55"/>
<ellipse cx="374.7" cy="381.9" rx="4.2" ry="3.55"/>
<ellipse cx="379.7" cy="369.9" rx="4.2" ry="3.55"/>
<ellipse cx="382.7" cy="367.5" rx="4.2" ry="3.55"/>
<ellipse cx="385.3" cy="365.5" rx="4.2" ry="3.55"/>
<ellipse cx="387.7" cy="380.9" rx="4.2" ry="3.55"/>
<ellipse cx="389.7" cy="391.8" rx="4.2" ry="3.55"/>
<ellipse cx="392.7" cy="381.9" rx="4.2" ry="3.55"/>
<ellipse cx="397.6" cy="403.4" rx="4.2" ry="3.55"/>
<ellipse cx="400.6" cy="376.9" rx="4.2" ry="3.55"/>
<ellipse cx="402.0" cy="381.9" rx="4.2" ry="3.55"/>
<ellipse cx="403.0" cy="387.8" rx="4.2" ry="3.55"/>
<ellipse cx="404.6" cy="380.9" rx="4.2" ry="3.55"/>
<ellipse cx="403.6" cy="392.8" rx="4.2" ry="3.55"/>
<ellipse cx="407.6" cy="398.8" rx="4.2" ry="3.55"/>
<ellipse cx="409.6" cy="394.2" rx="4.2" ry="3.55"/>
<ellipse cx="411.0" cy="394.8" rx="4.2" ry="3.55"/>
<ellipse cx="414.9" cy="392.8" rx="4.2" ry="3.55"/>
<ellipse cx="416.9" cy="394.8" rx="4.2" ry="3.55"/>
<ellipse cx="420.9" cy="397.8" rx="4.2" ry="3.55"/>
<ellipse cx="423.9" cy="401.8" rx="4.2" ry="3.55"/>
<ellipse cx="426.9" cy="396.2" rx="4.2" ry="3.55"/>
<ellipse cx="429.9" cy="403.8" rx="4.2" ry="3.55"/>
<ellipse cx="432.9" cy="404.8" rx="4.2" ry="3.55"/>
<ellipse cx="435.9" cy="400.8" rx="4.2" ry="3.55"/>
<ellipse cx="439.8" cy="402.2" rx="4.2" ry="3.55"/>
<ellipse cx="441.8" cy="403.8" rx="4.2" ry="3.55"/>
<ellipse cx="444.8" cy="399.8" rx="4.2" ry="3.55"/>
<ellipse cx="447.8" cy="402.8" rx="4.2" ry="3.55"/>
<ellipse cx="451.8" cy="403.8" rx="4.2" ry="3.55"/>
<ellipse cx="456.2" cy="401.8" rx="4.2" ry="3.55"/>
<ellipse cx="457.8" cy="392.8" rx="4.2" ry="3.55"/>
<ellipse cx="460.8" cy="380.9" rx="4.2" ry="3.55"/>
<ellipse cx="463.1" cy="326.4" rx="4.2" ry="3.55"/>
<ellipse cx="465.6" cy="309.0" rx="4.2" ry="3.55"/>
<ellipse cx="468.2" cy="299.0" rx="4.2" ry="3.55"/>
<ellipse cx="470.9" cy="297.5" rx="4.2" ry="3.55"/>
<ellipse cx="474.0" cy="296.4" rx="4.2" ry="3.55"/>
<ellipse cx="477.2" cy="297.5" rx="4.2" ry="3.55"/>
<ellipse cx="479.9" cy="297.1" rx="4.2" ry="3.55"/>
<ellipse cx="482.0" cy="302.7" rx="4.2" ry="3.55"/>
<ellipse cx="484.9" cy="299.0" rx="4.2" ry="3.55"/>
<ellipse cx="486.6" cy="313.2" rx="4.2" ry="3.55"/>
<ellipse cx="489.7" cy="310.1" rx="4.2" ry="3.55"/>
<ellipse cx="492.5" cy="322.0" rx="4.2" ry="3.55"/>
<ellipse cx="494.9" cy="362.0" rx="4.2" ry="3.55"/>
<ellipse cx="505.4" cy="360.4" rx="4.2" ry="3.55"/>
<ellipse cx="510.8" cy="371.9" rx="4.2" ry="3.55"/>
<ellipse cx="507.8" cy="375.9" rx="4.2" ry="3.55"/>
<ellipse cx="502.8" cy="380.9" rx="4.2" ry="3.55"/>
<ellipse cx="495.9" cy="383.9" rx="4.2" ry="3.55"/>
<ellipse cx="499.8" cy="384.9" rx="4.2" ry="3.55"/>
<ellipse cx="512.8" cy="392.8" rx="4.2" ry="3.55"/>
<ellipse cx="516.8" cy="393.8" rx="4.2" ry="3.55"/>
<ellipse cx="518.8" cy="399.8" rx="4.2" ry="3.55"/>
<ellipse cx="521.8" cy="405.8" rx="4.2" ry="3.55"/>
<ellipse cx="524.7" cy="400.8" rx="4.2" ry="3.55"/>
<ellipse cx="45.5" cy="402.9" rx="4.2" ry="3.55"/>
<ellipse cx="47.7" cy="404.0" rx="4.2" ry="3.55"/>
<ellipse cx="49.9" cy="405.5" rx="4.2" ry="3.55"/>
<ellipse cx="52.1" cy="404.9" rx="4.2" ry="3.55"/>
<ellipse cx="54.3" cy="401.3" rx="4.2" ry="3.55"/>
<ellipse cx="56.5" cy="402.1" rx="4.2" ry="3.55"/>
<ellipse cx="58.7" cy="405.2" rx="4.2" ry="3.55"/>
<ellipse cx="60.9" cy="406.2" rx="4.2" ry="3.55"/>
<ellipse cx="63.1" cy="403.3" rx="4.2" ry="3.55"/>
<ellipse cx="65.3" cy="402.2" rx="4.2" ry="3.55"/>
<ellipse cx="67.5" cy="402.9" rx="4.2" ry="3.55"/>
<ellipse cx="69.7" cy="403.5" rx="4.2" ry="3.55"/>
<ellipse cx="71.9" cy="402.0" rx="4.2" ry="3.55"/>
<ellipse cx="74.1" cy="406.0" rx="4.2" ry="3.55"/>
<ellipse cx="76.3" cy="404.4" rx="4.2" ry="3.55"/>
<ellipse cx="78.5" cy="404.5" rx="4.2" ry="3.55"/>
<ellipse cx="80.7" cy="402.6" rx="4.2" ry="3.55"/>
<ellipse cx="82.9" cy="405.3" rx="4.2" ry="3.55"/>
<ellipse cx="85.1" cy="404.6" rx="4.2" ry="3.55"/>
<ellipse cx="87.3" cy="403.2" rx="4.2" ry="3.55"/>
<ellipse cx="89.5" cy="405.5" rx="4.2" ry="3.55"/>
<ellipse cx="91.7" cy="404.7" rx="4.2" ry="3.55"/>
<ellipse cx="163.8" cy="389.0" rx="4.2" ry="3.55"/>
<ellipse cx="170.8" cy="388.2" rx="4.2" ry="3.55"/>
<ellipse cx="173.0" cy="403.8" rx="4.2" ry="3.55"/>
<ellipse cx="178.6" cy="405.4" rx="4.2" ry="3.55"/>
<ellipse cx="181.7" cy="398.4" rx="4.2" ry="3.55"/>
</g>
<g clip-path="url(#c2)">
<polyline points="45.5,398.0 48.0,406.5 55.0,401.5 61.0,406.5 65.0,402.0 72.0,403.0 74.5,406.0 78.0,403.5 93.0,404.0 95.5,398.0 98.0,388.0 99.8,350.0 100.8,332.1 102.9,314.3 106.0,299.6 110.2,295.4 113.4,292.3 116.5,295.4 120.7,297.5 123.9,302.7 127.0,310.1 129.1,353.0 130.0,364.0 133.0,371.9 137.6,394.8 142.4,385.9 150.2,401.6 155.2,393.0 160.0,395.0 163.8,389.5 167.0,395.0 170.9,387.9 172.8,404.3 175.5,396.1 178.7,406.2 181.8,397.7 185.0,402.0 188.8,399.6 195.0,401.0 198.7,402.2 203.7,399.8 208.7,403.8 212.7,404.2 215.7,395.8 218.6,379.9 221.6,350.0 223.1,317.4 225.6,297.5 229.4,298.5 236.1,296.4 239.8,300.6 243.0,305.9 244.4,317.4 246.5,319.5 248.6,348.9 250.9,362.0 252.3,386.9 255.9,385.9 260.8,364.9 265.8,381.9 270.8,397.8 276.8,382.9 281.8,387.8 285.7,395.4 288.2,386.0 291.2,378.5 293.2,376.4 295.5,376.0 525.6,376.0" fill="none" stroke="#00ff00" stroke-width="1.8" stroke-linejoin="round"/>
<polyline points="45.5,398.0 48.0,406.5 55.0,401.5 61.0,406.5 65.0,402.0 72.0,403.0 74.5,406.0 78.0,403.5 93.0,404.0 95.5,398.0 98.0,388.0 99.8,350.0 100.8,332.1 102.9,314.3 106.0,299.6 110.2,295.4 113.4,292.3 116.5,295.4 120.7,297.5 123.9,302.7 127.0,310.1 129.1,353.0 130.0,364.0 133.0,371.9 137.6,394.8 142.4,385.9 150.2,401.6 156.4,393.8 160.3,394.9 164.2,392.6 166.6,394.5 171.2,392.6 173.6,398.4 178.3,400.0 181.4,399.2 185.3,402.0 190.0,399.6 198.7,402.2 203.7,399.8 208.7,403.8 212.7,404.2 215.7,395.8 218.6,379.9 221.6,350.0 223.1,317.4 225.6,297.5 229.4,298.5 236.1,296.4 239.8,300.6 243.0,305.9 244.4,317.4 246.5,319.5 248.6,348.9 250.9,362.0 252.3,386.9 255.9,385.9 260.8,364.9 265.8,381.9 270.8,397.8 276.8,382.9 281.8,387.8 285.7,395.4 288.7,393.8 290.7,392.2 299.7,391.8 319.6,390.8 322.0,390.8 329.9,391.4 334.9,389.8 337.5,381.9 338.9,365.9 340.9,338.4 343.0,332.1 346.1,317.4 348.6,311.5 351.4,316.4 354.1,315.3 356.6,316.4 359.7,327.9 361.8,335.2 364.6,337.3 366.7,365.0 367.8,373.9 369.8,383.9 373.7,386.9 376.7,385.9 380.1,382.9 382.7,385.9 386.7,385.9 390.7,390.8 394.7,387.8 398.6,392.8 401.6,386.9 405.6,387.8 409.0,390.8 414.9,390.8 419.9,390.8 430.9,391.8 436.9,390.2 445.8,389.8 453.8,390.8 458.8,386.9 460.8,377.9 461.8,360.0 463.5,338.4 466.7,325.8 469.4,320.6 471.9,319.1 474.4,315.3 477.2,316.4 479.3,316.4 482.0,324.7 484.5,322.7 487.7,340.5 490.4,335.9 492.9,355.1 493.9,369.9 495.9,382.9 498.8,388.2 502.8,387.8 505.8,384.3 507.8,386.9 510.8,386.3 513.8,389.8 517.8,390.8 520.8,392.8 525.6,392.2" fill="none" stroke="#0000ff" stroke-width="1.9" stroke-linejoin="round"/>
</g></g>
<g font-family="Liberation Sans, sans-serif" font-size="15.6" fill="#262626">
<text transform="translate(44.8,463.9) scale(1.160,1)" text-anchor="middle">2010</text>
<text transform="translate(104.9,463.9) scale(1.160,1)" text-anchor="middle">2010.5</text>
<text transform="translate(164.9,463.9) scale(1.160,1)" text-anchor="middle">2011</text>
<text transform="translate(225.0,463.9) scale(1.160,1)" text-anchor="middle">2011.5</text>
<text transform="translate(285.1,463.9) scale(1.160,1)" text-anchor="middle">2012</text>
<text transform="translate(345.1,463.9) scale(1.160,1)" text-anchor="middle">2012.5</text>
<text transform="translate(405.2,463.9) scale(1.160,1)" text-anchor="middle">2013</text>
<text transform="translate(465.2,463.9) scale(1.160,1)" text-anchor="middle">2013.5</text>
<text transform="translate(525.3,463.9) scale(1.160,1)" text-anchor="middle">2014</text>
<text transform="translate(39.0,433.7) scale(1.160,1)" text-anchor="end">0</text>
<text transform="translate(39.0,404.2) scale(1.160,1)" text-anchor="end">0.2</text>
<text transform="translate(39.0,374.8) scale(1.160,1)" text-anchor="end">0.4</text>
<text transform="translate(39.0,345.3) scale(1.160,1)" text-anchor="end">0.6</text>
<text transform="translate(39.0,315.9) scale(1.160,1)" text-anchor="end">0.8</text>
<text transform="translate(39.0,286.4) scale(1.160,1)" text-anchor="end">1</text>
</g>
<g font-family="Liberation Sans, sans-serif" font-weight="bold" font-size="10.0" fill="#000">
<text transform="translate(285.5,477.2) scale(1.190,1)" text-anchor="middle">Years</text>
<text transform="translate(8.0,354.1) rotate(-90) scale(1,1.100)" text-anchor="middle" font-size="11.0">fAPAR</text>
</g>
<rect x="563.0" y="19.5" width="76.4" height="73.6" fill="#fff" stroke="#939393" stroke-width="1.45"/>
<ellipse cx="581.1" cy="29.9" rx="1.8" ry="1.6" fill="#000"/>
<ellipse cx="581.1" cy="47.6" rx="3.95" ry="3.6" fill="none" stroke="#f00" stroke-width="1.8"/>
<line x1="566" y1="65.6" x2="596.3" y2="65.6" stroke="#0f0" stroke-width="1.6"/>
<line x1="566" y1="83.1" x2="596.3" y2="83.1" stroke="#00f" stroke-width="1.7"/>
<g font-family="Liberation Sans, sans-serif" font-size="15.2" fill="#000">
<text transform="translate(598.6,35.5) scale(1.060,1)">Train</text>
<text transform="translate(598.6,53.2) scale(1.060,1)">Test</text>
<text transform="translate(598.6,71.2) scale(1.060,1)">SO</text>
<text transform="translate(598.6,88.7) scale(1.060,1)">MO</text>
</g>
<rect x="563.0" y="265.5" width="76.4" height="73.6" fill="#fff" stroke="#939393" stroke-width="1.45"/>
<ellipse cx="581.1" cy="275.9" rx="1.8" ry="1.6" fill="#000"/>
<ellipse cx="581.1" cy="293.6" rx="3.95" ry="3.6" fill="none" stroke="#f00" stroke-width="1.8"/>
<line x1="566" y1="311.6" x2="596.3" y2="311.6" stroke="#0f0" stroke-width="1.6"/>
<line x1="566" y1="329.1" x2="596.3" y2="329.1" stroke="#00f" stroke-width="1.7"/>
<g font-family="Liberation Sans, sans-serif" font-size="15.2" fill="#000">
<text transform="translate(598.6,281.5) scale(1.060,1)">Train</text>
<text transform="translate(598.6,299.2) scale(1.060,1)">Test</text>
<text transform="translate(598.6,317.2) scale(1.060,1)">SO</text>
<text transform="translate(598.6,334.7) scale(1.060,1)">MO</text>
</g>
<text transform="translate(287.5,12.6) scale(1.160,1)" text-anchor="middle" font-family="Liberation Sans, sans-serif" font-weight="bold" font-size="17.0" fill="#000">Results in SO and MO models</text>
</svg></body></html>
